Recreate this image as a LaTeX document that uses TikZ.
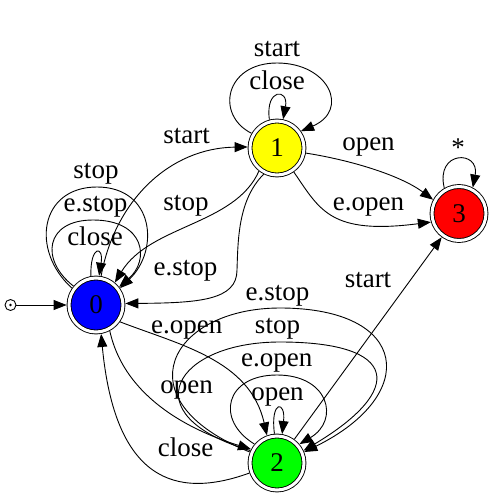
\documentclass[tikz,border=0pt]{standalone}
\usepackage{fontspec}
\setmainfont{Liberation Serif}
\usetikzlibrary{arrows.meta}
\definecolor{cblue}{RGB}{0,0,255}
\definecolor{cyellow}{RGB}{255,255,0}
\definecolor{cred}{RGB}{255,0,0}
\definecolor{cgreen}{RGB}{0,255,0}
\begin{document}
\begin{tikzpicture}[x=1pt,y=-1pt,
  state/.style={circle, draw, double, double distance=3pt, line width=0.9pt,
    minimum size=54pt, inner sep=0pt, outer sep=2.4pt,
    font=\fontsize{27}{27}\selectfont},
  edge/.style={line width=0.9pt, -{Triangle[length=13pt,width=10pt]}},
  lbl/.style={anchor=base, inner sep=0pt, font=\fontsize{27}{27}\selectfont}]
\useasboundingbox (0,0) rectangle (493,496);
\fill[white] (0,0) rectangle (493,496);

% states
\node[state, fill=cblue]   (n0) at (96,305) {0};
\node[state, fill=cyellow] (n1) at (277,148) {1};
\node[state, fill=cgreen]  (n2) at (277,463) {2};
\node[state, fill=cred]    (n3) at (459,213.5) {3};

% initial marker
\node[circle, draw, line width=0.9pt, minimum size=11pt, inner sep=0pt] (init) at (10.5,305) {};
\node[circle, fill, inner sep=0pt, minimum size=2.6pt] (initdot) at (init.center) {};
\draw[edge] (init) -- (n0);

% loops on 0
\draw[edge] (n0.100) .. controls (90,245) and (104,245) .. (n0.84);
\draw[edge] (n0.140) .. controls (40,260) and (45,220) .. (93,220) .. controls (145,220) and (150,260) .. (n0.38);
\draw[edge] (n0.145) .. controls (30,250) and (40,187) .. (97,187) .. controls (154,187) and (160,250) .. (n0.35);
\node[lbl] (l0close) at (95,245) {close};
\node[lbl] (l0estop) at (95.5,211.7) {e.stop};
\node[lbl] (l0stop) at (96,178) {stop};

% 0 -> 1, 1 -> 0
\draw[edge] (n0.80) .. controls (115,200) and (170,148) .. (n1.178);
\draw[edge] (n1.232) .. controls (235,225) and (150,225) .. (n0.50);
\draw[edge] (n1.243) .. controls (238,200) and (238,240) .. (237,270) .. controls (237,300) and (200,303) .. (n0.3);
\node[lbl] (l01start) at (186.7,143.3) {start};
\node[lbl] (l10stop) at (186,210) {stop};
\node[lbl] (l10estop) at (185.5,275) {e.stop};

% 0 -> 2, 2 -> 0
\draw[edge] (n0.-35) .. controls (180,345) and (250,360) .. (n2.110);
\draw[edge] (n0.-62) .. controls (125,400) and (195,432) .. (n2.152);
\draw[edge] (n2.200) .. controls (175,500) and (115,480) .. (n0.-80);
\node[lbl] (l02eopen) at (186.7,333) {e.open};
\node[lbl] (l02open) at (186.7,393) {open};
\node[lbl] (l20close) at (185.5,456.7) {close};

% loops on 2
\draw[edge] (n2.95) .. controls (270,400) and (286,400) .. (n2.80);
\draw[edge] (n2.140) .. controls (215,420) and (225,375) .. (277,375) .. controls (329,375) and (340,420) .. (n2.40);
\draw[edge] (n2.155) .. controls (130,415) and (175,342) .. (280,342) .. controls (400,342) and (405,390) .. (n2.25);
\draw[edge] (n2.158) .. controls (120,400) and (170,308) .. (280,308) .. controls (410,308) and (420,395) .. (n2.22);
\node[lbl] (l2estop) at (277.5,300) {e.stop};
\node[lbl] (l2stop) at (277.5,333.3) {stop};
\node[lbl] (l2eopen) at (276.7,366.7) {e.open};
\node[lbl] (l2open) at (277.5,400) {open};

% loops on 1
\draw[edge] (n1.105) .. controls (265,88) and (289,88) .. (n1.78);
\draw[edge] (n1.150) .. controls (215,115) and (225,63) .. (277,63) .. controls (329,63) and (350,110) .. (n1.35);
\node[lbl] (l1start) at (277,56) {start};
\node[lbl] (l1close) at (277,89) {close};

% 1 -> 3, 2 -> 3
\draw[edge] (n1.-10) .. controls (350,160) and (400,175) .. (n3.152);
\draw[edge] (n1.-55) .. controls (320,210) and (330,235) .. (n3.197);
\draw[edge] (n2) -- (n3);
\node[lbl] (l13open) at (368.5,150) {open};
\node[lbl] (l13eopen) at (368.5,210) {e.open};
\node[lbl] (l23start) at (368,287.7) {start};

% loop on 3
\draw[edge] (n3.120) .. controls (435,150) and (480,150) .. (n3.62);
\node[lbl] (l3star) at (458,156) {*};
\end{tikzpicture}
\end{document}
